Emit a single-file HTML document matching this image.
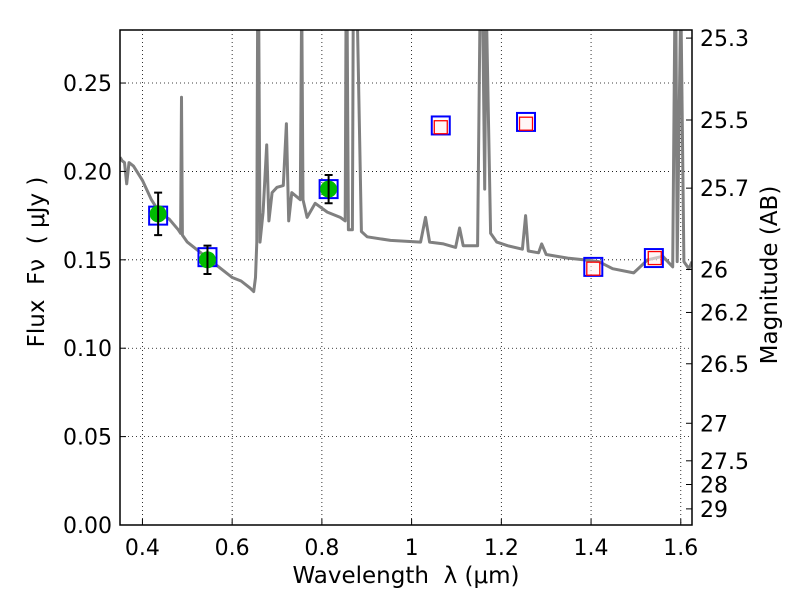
<!DOCTYPE html>
<html><head><meta charset="utf-8"><style>
body{margin:0;background:#fff;}
svg text{font-family:"DejaVu Sans","Liberation Sans",sans-serif;fill:#000;white-space:pre;}
</style></head><body>
<svg id="chart" width="800" height="600" xmlns="http://www.w3.org/2000/svg">
<rect width="800" height="600" fill="#fff"/>
<g id="grid"></g>
<g id="plot"></g>
<g id="axes"></g>
</svg>
<script>
const xTicks=[0.4,0.6,0.8,1.0,1.2,1.4,1.6];
const xTickLabels=["0.4","0.6","0.8","1","1.2","1.4","1.6"];
const yTicks=[0,0.05,0.10,0.15,0.20,0.25];
const yTickLabels=["0.00","0.05","0.10","0.15","0.20","0.25"];
const magTicks=[25.3,25.5,25.7,26,26.2,26.5,27,27.5,28,29];
const magTickLabels=["25.3","25.5","25.7","26","26.2","26.5","27","27.5","28","29"];
const specLam=[0.35,0.355,0.36,0.365,0.37,0.38,0.40,0.42,0.44,0.46,0.48,0.485,0.487,0.489,0.50,0.52,0.55,0.58,0.60,0.62,0.64,0.648,0.652,0.655,0.657,0.659,0.662,0.669,0.677,0.682,0.689,0.70,0.714,0.721,0.726,0.733,0.752,0.755,0.758,0.767,0.785,0.812,0.841,0.852,0.854,0.856,0.859,0.868,0.870,0.873,0.875,0.878,0.888,0.901,0.953,1.02,1.031,1.04,1.071,1.098,1.107,1.115,1.147,1.153,1.158,1.163,1.166,1.176,1.19,1.214,1.247,1.254,1.26,1.283,1.29,1.30,1.348,1.383,1.417,1.448,1.495,1.526,1.56,1.582,1.587,1.589,1.592,1.6,1.607,1.618,1.625];
const specFlux=[0.208,0.206,0.205,0.193,0.205,0.203,0.195,0.184,0.176,0.173,0.167,0.165,0.242,0.164,0.160,0.156,0.150,0.144,0.140,0.138,0.134,0.132,0.140,0.160,0.30,0.30,0.160,0.177,0.215,0.172,0.188,0.191,0.192,0.227,0.172,0.188,0.184,0.30,0.184,0.174,0.182,0.177,0.174,0.172,0.30,0.30,0.167,0.167,0.30,0.30,0.30,0.30,0.166,0.163,0.161,0.160,0.174,0.160,0.159,0.157,0.168,0.158,0.158,0.30,0.30,0.19,0.30,0.165,0.160,0.158,0.156,0.175,0.155,0.154,0.159,0.153,0.151,0.150,0.149,0.145,0.1426,0.150,0.152,0.146,0.30,0.30,0.149,0.30,0.149,0.145,0.149];
const obsLam=[0.435,0.545,0.815];
const obsFlux=[0.176,0.150,0.190];
const obsErr=[0.012,0.008,0.008];
const bandLam=[0.435,0.545,0.815,1.065,1.255,1.405,1.54];
const bandFlux=[0.175,0.1515,0.190,0.226,0.228,0.146,0.151];
const modelLam=[1.065,1.255,1.405,1.542];
const modelFlux=[0.225,0.227,0.145,0.151];

const L=120,R=692,T=30,B=525,xmin=0.35,xmax=1.625,ymin=0,ymax=0.28;
const sx=v=>L+(v-xmin)/(xmax-xmin)*(R-L);
const sy=v=>B-(v-ymin)/(ymax-ymin)*(B-T);
const magToFlux=m=>Math.pow(10,(23.9-m)/2.5);
const NS="http://www.w3.org/2000/svg";
function mk(tag,attrs,parent,txt){const e=document.createElementNS(NS,tag);for(const k in attrs)e.setAttribute(k,attrs[k]);if(txt!==undefined)e.textContent=txt;parent.appendChild(e);return e;}
const grid=document.getElementById('grid'),plot=document.getElementById('plot'),axes=document.getElementById('axes');
mk('clipPath',{id:'clip'},plot);
mk('rect',{x:L,y:T,width:R-L,height:B-T},document.getElementById('clip'));

xTicks.forEach((v,i)=>{
  const g=mk('line',{x1:sx(v),x2:sx(v),y1:T,y2:B,stroke:'#000','stroke-width':0.8,'stroke-dasharray':'1,3'},grid);
  
  
  const t=mk('line',{x1:sx(v),x2:sx(v),y1:B,y2:B-6,stroke:'#000'},axes);
  
  
  const lb=mk('text',{x:sx(v),y:B+30,'text-anchor':'middle','font-size':22},axes,xTickLabels[i]);
  
  
});
yTicks.forEach((v,i)=>{
  const g=mk('line',{x1:L,x2:R,y1:sy(v),y2:sy(v),stroke:'#000','stroke-width':0.8,'stroke-dasharray':'1,3'},grid);
  
  
  const t=mk('line',{x1:L,x2:L+6,y1:sy(v),y2:sy(v),stroke:'#000'},axes);
  
  
  const lb=mk('text',{x:L-8,y:sy(v)+8,'text-anchor':'end','font-size':22},axes,yTickLabels[i]);
  
  
});
magTicks.forEach((m,i)=>{
  const y=sy(magToFlux(m));
  const t=mk('line',{x1:R,x2:R-6,y1:y,y2:y,stroke:'#000'},axes);
  
  
  const lb=mk('text',{x:R+8,y:y+8,'font-size':22},axes,magTickLabels[i]);
  
  
});

const cg=mk('g',{'clip-path':'url(#clip)'},plot);
const pts=specLam.map((l,i)=>sx(l).toFixed(1)+','+sy(specFlux[i]).toFixed(1)).join(' ');
const sp=mk('polyline',{points:pts,fill:'none',stroke:'#808080','stroke-width':3,'stroke-linejoin':'round'},cg);



bandLam.forEach((l,i)=>{
  const b=mk('rect',{x:sx(l)-9,y:sy(bandFlux[i])-9,width:18,height:18,fill:'none',stroke:'#0000ff','stroke-width':2},cg);
  
  
});
modelLam.forEach((l,i)=>{
  const r=mk('rect',{x:sx(l)-6.5,y:sy(modelFlux[i])-6.5,width:13,height:13,fill:'#fff0f0','fill-opacity':0.6,stroke:'#ff0000','stroke-width':1.3},cg);
  
  
});
obsLam.forEach((l,i)=>{
  const x=sx(l);
  const c=mk('circle',{cx:x,cy:sy(obsFlux[i]),r:8.5,fill:'#00bb00'},cg);
  
  
  const y1=sy(obsFlux[i]+obsErr[i]),y2=sy(obsFlux[i]-obsErr[i]);
  const e=mk('path',{d:`M${x},${y1}V${y2}M${x-4},${y1}H${x+4}M${x-4},${y2}H${x+4}`,stroke:'#000','stroke-width':2,fill:'none'},cg);
  
  
});

const fr=mk('rect',{x:L,y:T,width:R-L,height:B-T,fill:'none',stroke:'#000','stroke-width':1.5},axes);


const xt=mk('text',{x:406,y:583,'text-anchor':'middle','font-size':23},axes,'Wavelength  λ (μm)');


const yt=mk('text',{x:0,y:0,'text-anchor':'middle','font-size':23,transform:'translate(44,262) rotate(-90)'},axes,'Flux  Fν  ( μJy )');


const mt=mk('text',{x:0,y:0,'text-anchor':'middle','font-size':23,transform:'translate(777,275) rotate(-90)'},axes,'Magnitude (AB)');


</script>
</body></html>
